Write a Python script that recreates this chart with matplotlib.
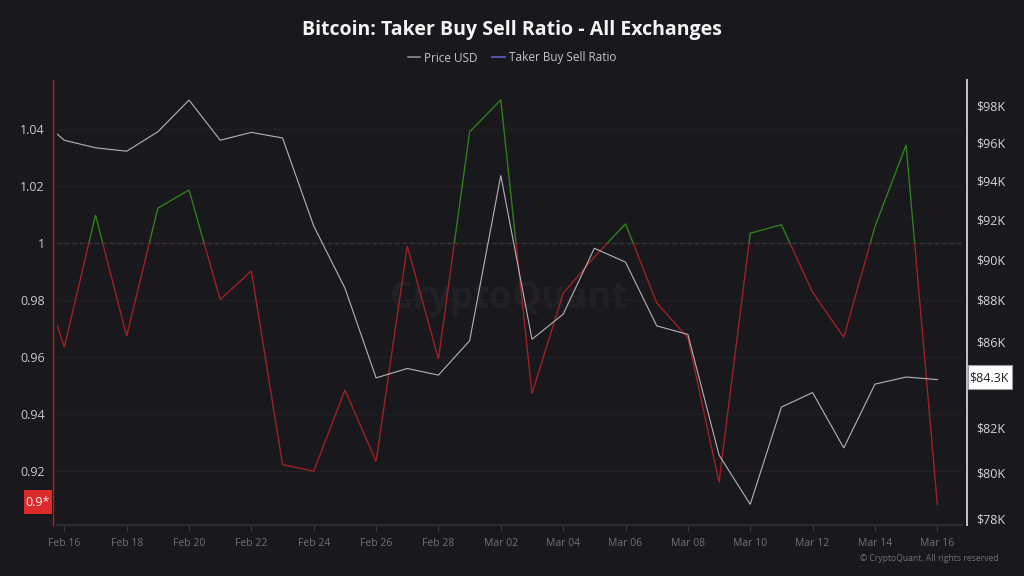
import pandas as pd
import matplotlib
matplotlib.use('Agg')
from matplotlib import pyplot as plt
from matplotlib.patches import Rectangle
from matplotlib.lines import Line2D
import matplotlib.dates as mdates

plt.rcParams['font.family'] = ['Open Sans', 'DejaVu Sans']

BG = '#18181d'
GRID = '#202025'
RED = '#a02022'
GREEN = '#2f8018'
W = 1024
H = 576

# first point is a partial day just before Feb 16
dates = pd.to_datetime(['2025-02-15 18:30']).append(pd.date_range('2025-02-16', '2025-03-16'))

ratio = [0.9711, 0.9633, 1.0097, 0.9672, 1.0121, 1.0185, 0.9800, 0.9901, 0.9221, 0.9198,
         0.9483, 0.9232, 0.9988, 0.9592, 1.0389, 1.0501, 0.9470, 0.9822, 0.9950, 1.0066,
         0.9789, 0.9666, 0.9159, 1.0033, 1.0063, 0.9826, 0.9668, 1.0056, 1.0343, 0.9082]

price = [96440, 96110, 95710, 95530, 96560, 98270, 96110, 96530, 96230, 91660,
         88570, 84280, 84720, 84410, 86030, 94260, 86100, 87300, 90540, 89850,
         86740, 86330, 80760, 78590, 82930, 83600, 81080, 83990, 84320, 84200]

date_ticks = pd.to_datetime(['2025-02-16', '2025-02-18', '2025-02-20', '2025-02-22', '2025-02-24',
                             '2025-02-26', '2025-02-28', '2025-03-02', '2025-03-04', '2025-03-06',
                             '2025-03-08', '2025-03-10', '2025-03-12', '2025-03-14', '2025-03-16'])
ratio_ticks = [0.92, 0.94, 0.96, 0.98, 1, 1.02, 1.04]
ratio_labels = ['0.92', '0.94', '0.96', '0.98', '1', '1.02', '1.04']
# $84K sits behind the current price box
price_ticks = [78000, 80000, 82000, 86000, 88000, 90000, 92000, 94000, 96000, 98000]
price_labels = ['$78K', '$80K', '$82K', '$86K', '$88K', '$90K', '$92K', '$94K', '$96K', '$98K']

fig = plt.figure(figsize=(W / 100, H / 100), dpi=100, facecolor=BG)
ax = fig.add_axes([57 / W, 1 - 525 / H, (962 - 57) / W, (525 - 80) / H], facecolor=BG)

xmin = mdates.date2num(pd.Timestamp('2025-02-16')) - 7.3 / 31.18
xmax = mdates.date2num(pd.Timestamp('2025-03-16')) + 24.7 / 31.18
ax.set_xlim(xmin, xmax)
ax.set_ylim(0.9009, 1.0571)

# ratio line: green above 1, red below
for col, y0, y1 in [(RED, 0.9, 1), (GREEN, 1, 1.06)]:
    l, = ax.plot(dates, ratio, color=col, lw=1.0, solid_joinstyle='miter', zorder=3)
    l.set_clip_path(Rectangle((xmin, y0), xmax - xmin, y1 - y0, transform=ax.transData))

ax.grid(axis='y', color=GRID, lw=0.9)
ax.set_axisbelow(True)
ax.axhline(1, color='#37373c', lw=0.9, ls=(0, (3.5, 2.5)), zorder=1)

ax.set_xticks(date_ticks)
ax.xaxis.set_major_formatter(mdates.DateFormatter('%b %d'))
ax.set_yticks(ratio_ticks)
ax.set_yticklabels(ratio_labels)
ax.tick_params(axis='x', colors='#3c3c42', labelcolor='#6f6f76', labelsize=7.5, length=4, width=0.8, pad=5)
ax.tick_params(axis='y', length=0, labelcolor='#c9c9cc', labelsize=9, pad=5.5)

for s in ['top', 'right']:
    ax.spines[s].set_visible(False)
ax.spines['bottom'].set_color('#2e2e34')
ax.spines['bottom'].set_linewidth(1.3)
ax.spines['left'].set_color('#b02022')
ax.spines['left'].set_linewidth(1)
ax.spines['left'].set_position(('outward', 3.2))

ax2 = ax.twinx()
ax2.set_yscale('log')
# 1809 px per log unit, $78K at y=518 and $98K at y=105
ax2.set_ylim(78000 * 0.99614, 98000 * 1.01392)
ax2.plot(dates, price, color='#b4b4b8', lw=0.8, solid_joinstyle='miter', zorder=4)
ax2.set_yticks(price_ticks)
ax2.set_yticklabels(price_labels)
ax2.minorticks_off()
ax2.tick_params(axis='y', length=0, labelcolor='#d6d6d8', labelsize=9, pad=6.5)
for s in ['top', 'left', 'bottom']:
    ax2.spines[s].set_visible(False)
ax2.spines['right'].set_color('#c4c4c6')
ax2.spines['right'].set_linewidth(1.4)
ax2.spines['right'].set_position(('outward', 3.6))

# watermark, under the lines
ax.text((509 - 57) / 905, (525 - 298) / 445, 'CryptoQuant', transform=ax.transAxes, color='#202025',
        fontsize=26.5, fontweight='bold', ha='center', va='center', zorder=0.5)

fig.text(512 / W, 1 - 30 / H, 'Bitcoin: Taker Buy Sell Ratio - All Exchanges', color='#f4f4f5',
         fontsize=14.05, fontweight='bold', ha='center', va='center')

handles = [Line2D([], [], color='#9a9a9e', lw=1.1), Line2D([], [], color='#5a5ab8', lw=1.3)]
fig.legend(handles, ['Price USD', 'Taker Buy Sell Ratio'], ncol=2, frameon=False, loc='center',
           bbox_to_anchor=(512 / W, 1 - 58 / H), fontsize=8.5, labelcolor='#c4c4c8',
           handlelength=1.05, handletextpad=0.35, columnspacing=1.25)

# boxes on the axes
fig.add_artist(Rectangle((24 / W, 1 - 514 / H), 28 / W, 24 / H, transform=fig.transFigure, color='#dc2a2a', lw=0))
fig.text(38 / W, 1 - 503 / H, '0.9*', color='#f5f5f5', fontsize=9, ha='center', va='center')

fig.add_artist(Rectangle((967.5 / W, 1 - 389 / H), 44.5 / W, 24 / H, transform=fig.transFigure,
                         facecolor='white', edgecolor='#9a9a9e', lw=0.8, zorder=5))
fig.text(989.5 / W, 1 - 377.5 / H, '$84.3K', color='#222226', fontsize=9, ha='center', va='center', zorder=6)

fig.text(999 / W, 1 - 558.5 / H, '© CryptoQuant. All rights reserved', color='#6f6f76', fontsize=6.2,
         ha='right', va='center')

fig.savefig('out.png', dpi=100, facecolor=BG)
